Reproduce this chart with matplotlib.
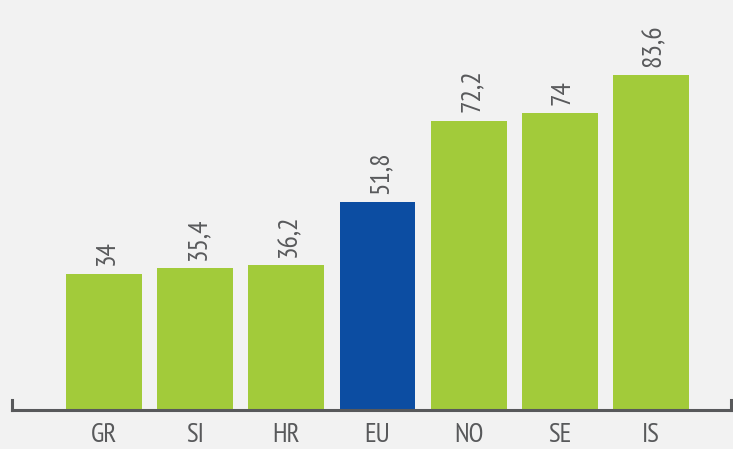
import matplotlib
matplotlib.use("Agg")
import matplotlib.pyplot as plt
from matplotlib import font_manager as fm

categories = ["GR", "SI", "HR", "EU", "NO", "SE", "IS"]
values = [34, 35.4, 36.2, 51.8, 72.2, 74, 83.6]
value_labels = ["34", "35,4", "36,2", "51,8", "72,2", "74", "83,6"]
colors = ["#a2cb3a", "#a2cb3a", "#a2cb3a", "#0c4da2", "#a2cb3a", "#a2cb3a", "#a2cb3a"]

names = {f.name for f in fm.fontManager.ttflist}
family = "DejaVu Sans"
for cand in ["PT Sans Narrow", "Roboto Condensed", "Open Sans Condensed", "Liberation Sans Narrow"]:
    if cand in names:
        family = cand
        break
fam = [family, "DejaVu Sans"]

W, H = 733, 449
fig = plt.figure(figsize=(W / 100, H / 100), dpi=100)
fig.patch.set_facecolor("#f2f2f2")
left_px, right_px, base_px = 12, 731, 410
ax = fig.add_axes([left_px / W, (H - base_px) / H, (right_px - left_px) / W, base_px / H])
ax.set_facecolor("#f2f2f2")

step = 91.17
xs = list(range(len(categories)))
ax.bar(xs, values, width=76 / step, color=colors, zorder=2)
ax.set_xlim(-(104 - left_px) / step, 6 + (right_px - 651) / step)
ppu = 4.007
ax.set_ylim(0, base_px / ppu)

axc = "#58595b"
for x, v, lab in zip(xs, values, value_labels):
    ax.annotate(lab, (x, v), xytext=(2, 6), textcoords="offset points",
                rotation=90, ha="center", va="bottom", fontsize=20,
                family=fam, fontweight="normal", color=axc)

ax.spines["top"].set_visible(False)
ax.spines["bottom"].set_color(axc)
ax.spines["bottom"].set_linewidth(2.2)
for s in ["left", "right"]:
    ax.spines[s].set_color(axc)
    ax.spines[s].set_linewidth(2.2)
    ax.spines[s].set_bounds(0, 10 / ppu)
ax.set_yticks([])
ax.set_xticks(xs)
ax.set_xticklabels(categories, fontsize=19.5, family=fam, fontweight="normal", color=axc)
ax.tick_params(axis="x", length=0, pad=9.5)

fig.savefig("out.png", dpi=100, facecolor=fig.get_facecolor())
